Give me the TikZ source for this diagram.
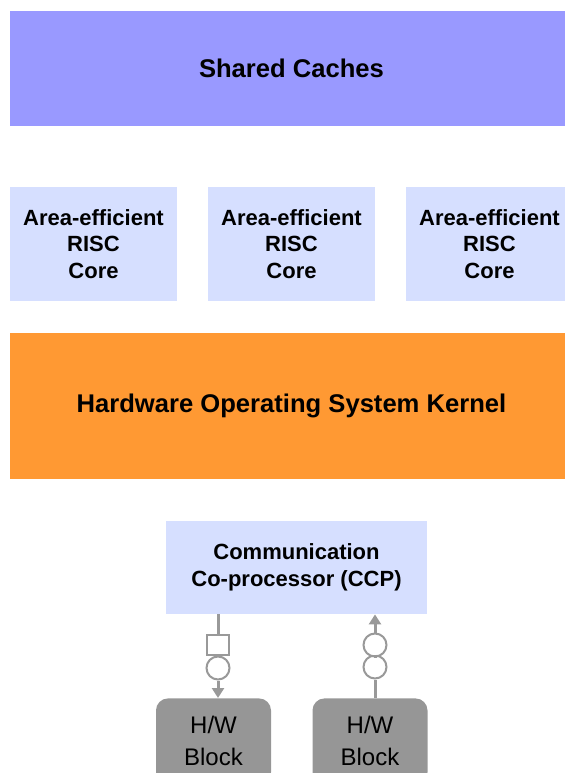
\documentclass[tikz,border=0pt]{standalone}
\usepackage{fontspec}
\setmainfont{Liberation Sans}
\usetikzlibrary{arrows.meta}

\definecolor{cachefill}{HTML}{9999FF}
\definecolor{corefill}{HTML}{D6DFFF}
\definecolor{kernelfill}{HTML}{FF9933}
\definecolor{linkgray}{HTML}{999999}
\definecolor{blockfill}{HTML}{969696}

\tikzset{
  layer/.style={inner sep=0pt, align=center,
    font=\fontsize{12.8}{15}\selectfont\bfseries},
  unit/.style={inner sep=0pt, align=center, fill=corefill,
    font=\fontsize{11}{13.3}\selectfont\bfseries},
  hwblock/.style={inner sep=0pt, align=center, fill=blockfill,
    rounded corners=6pt, minimum width=57.5pt, minimum height=43pt,
    font=\fontsize{12}{16}\selectfont, text=black},
  link/.style={draw=linkgray, line width=1.5pt},
  fifo/.style={draw=linkgray, line width=1pt, circle, inner sep=0pt,
    minimum size=11.5pt, fill=white},
  reg/.style={draw=linkgray, line width=1pt, inner sep=0pt,
    minimum width=11pt, minimum height=10pt, fill=white}
}

\begin{document}
\begin{tikzpicture}[x=0.5pt,y=-0.5pt]
  \useasboundingbox (0,0) rectangle (565,773);

  % shared layer and cores
  \node[layer, fill=cachefill, minimum width=281.5pt, minimum height=57.5pt]
    (cache) at (291.5,68.5) {Shared Caches};
  \node[unit, minimum width=83.5pt, minimum height=57pt] (core1) at (93.5,244)
    {Area-efficient\\RISC\\Core};
  \node[unit, minimum width=83.5pt, minimum height=57pt] (core2) at (291.5,244)
    {Area-efficient\\RISC\\Core};
  \node[unit, minimum width=83.5pt, minimum height=57pt] (core3) at (489.5,244)
    {Area-efficient\\RISC\\Core};
  \node[layer, fill=kernelfill, minimum width=281.5pt, minimum height=73pt]
    (kernel) at (291.5,406) {Hardware Operating System Kernel};

  % communication co-processor
  \node[unit, minimum width=130.5pt, minimum height=46.5pt] (ccp) at (296.5,567.5)
    {Communication\\Co-processor (CCP)};

  % hardware blocks
  \node[hwblock, anchor=north] (hw1) at (213.5,698) {H/W\\Block};
  \node[hwblock, anchor=north] (hw2) at (370,698) {H/W\\Block};

  % outgoing link
  \node[reg] (reg1) at (218,645) {};
  \node[fifo] (out1) at (218,668) {};
  \draw[link] (ccp.south -| reg1) -- (reg1);
  \draw[link] (reg1) -- (out1);
  \draw[link, -{Triangle[length=5pt,width=6pt]}] (out1) -- (reg1 |- hw1.north);

  % incoming link
  \node[fifo] (in1) at (375,667) {};
  \node[fifo] (in2) at (375,645) {};
  \draw[link] (hw2.north -| in1) -- (in1);
  \draw[link] (in1) -- (in2);
  \draw[link, -{Triangle[length=5pt,width=6pt]}] (in2) -- (in2 |- ccp.south);
\end{tikzpicture}
\end{document}
